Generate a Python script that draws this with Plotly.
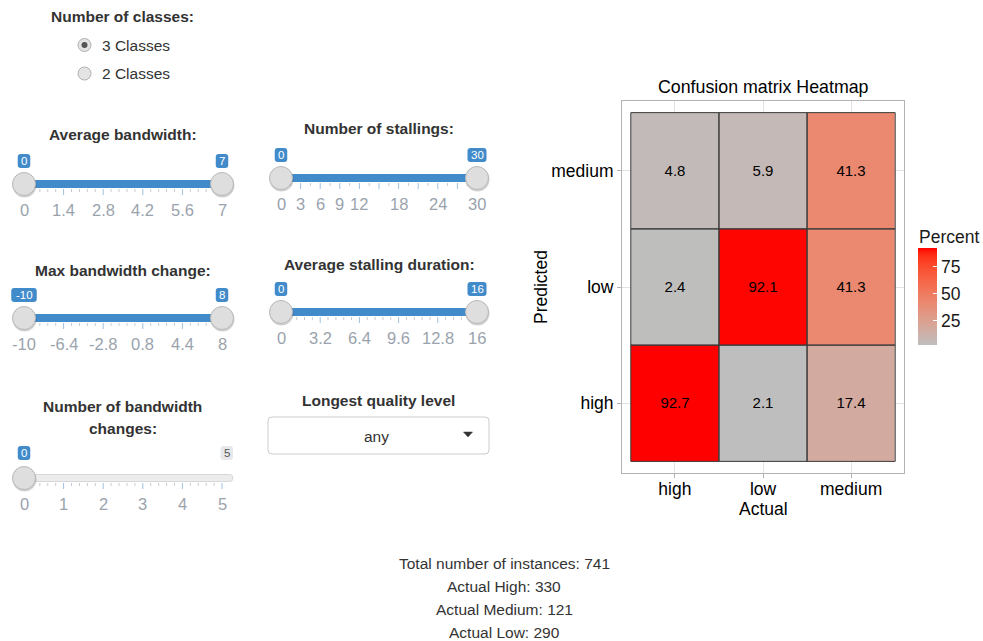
import plotly.graph_objects as go

# ---------------- data ----------------
actual_levels = ["high", "low", "medium"]
predicted_levels = ["high", "low", "medium"]
# rows follow predicted_levels (bottom -> top), columns follow actual_levels
percent = [
    [92.7, 2.1, 17.4],
    [2.4, 92.1, 41.3],
    [4.8, 5.9, 41.3],
]
legend_ticks = [25, 50, 75]

radio_title = "Number of classes:"
radio_options = ["3 Classes", "2 Classes"]
radio_selected = 0

slider_titles = ["Average bandwidth:", "Number of stallings:", "Max bandwidth change:",
                 "Average stalling duration:", "Number of bandwidth changes:"]
slider_min = [0, 0, -10, 0, 0]
slider_max = [7, 30, 8, 16, 5]
slider_from = [0, 0, -10, 0, 0]
slider_to = [7, 30, 8, 16, None]
slider_grid_labels = [
    ["0", "1.4", "2.8", "4.2", "5.6", "7"],
    ["0", "3", "6", "9", "12", "18", "24", "30"],
    ["-10", "-6.4", "-2.8", "0.8", "4.4", "8"],
    ["0", "3.2", "6.4", "9.6", "12.8", "16"],
    ["0", "1", "2", "3", "4", "5"],
]
slider_grid_major = [
    [0, 1.4, 2.8, 4.2, 5.6, 7],
    [0, 3, 6, 9, 12, 15, 18, 21, 24, 27, 30],
    [-10, -6.4, -2.8, 0.8, 4.4, 8],
    [0, 3.2, 6.4, 9.6, 12.8, 16],
    [0, 1, 2, 3, 4, 5],
]

dropdown_title = "Longest quality level"
dropdown_value = "any"

summary_lines = ["Total number of instances: 741", "Actual High: 330",
                 "Actual Medium: 121", "Actual Low: 290"]

# ---------------- helpers (layout in pixels) ----------------
W, H = 983, 641
FONT = "Liberation Sans, Arial, Helvetica, sans-serif"
BODY = 15.5
shapes = []
annots = []


def X(px):
    return px / W


def Y(py):
    return 1 - py / H


def text(x, y, s, size=BODY, color="#333333", bold=False, xanchor="center", angle=0):
    annots.append(dict(xref="paper", yref="paper", x=X(x), y=Y(y), text=("<b>%s</b>" % s) if bold else s,
                       showarrow=False, xanchor=xanchor, yanchor="middle", textangle=angle,
                       font=dict(family=FONT, size=size, color=color)))


def rect(x0, y0, x1, y1, fill, line=None, lw=0):
    shapes.append(dict(type="rect", xref="paper", yref="paper", x0=X(x0), x1=X(x1), y0=Y(y1), y1=Y(y0),
                       fillcolor=fill, line=dict(color=line or fill, width=lw)))


def rrect(x0, y0, x1, y1, r, fill, line=None, lw=0):
    pts = [("M", x0 + r, y0), ("L", x1 - r, y0), ("Q", x1, y0, x1, y0 + r), ("L", x1, y1 - r),
           ("Q", x1, y1, x1 - r, y1), ("L", x0 + r, y1), ("Q", x0, y1, x0, y1 - r), ("L", x0, y0 + r),
           ("Q", x0, y0, x0 + r, y0)]
    p = ""
    for sg in pts:
        cmd = sg[0]
        coords = sg[1:]
        parts = []
        for i in range(0, len(coords), 2):
            parts.append("%.6f,%.6f" % (X(coords[i]), Y(coords[i + 1])))
        p += cmd + " " + " ".join(parts) + " "
    p += "Z"
    shapes.append(dict(type="path", xref="paper", yref="paper", path=p, fillcolor=fill,
                       line=dict(color=line or fill, width=lw)))


def circle(cx, cy, r, fill, line=None, lw=0):
    shapes.append(dict(type="circle", xref="paper", yref="paper", x0=X(cx - r), x1=X(cx + r),
                       y0=Y(cy + r), y1=Y(cy - r), fillcolor=fill, line=dict(color=line or fill, width=lw)))


def seg(x0, y0, x1, y1, color, w=1):
    shapes.append(dict(type="line", xref="paper", yref="paper", x0=X(x0), x1=X(x1), y0=Y(y0), y1=Y(y1),
                       line=dict(color=color, width=w)))


def badge(cx, cy, s, fill="#428bca", color="white", xanchor="center"):
    w = 6 + 6.5 * len(s)
    if xanchor == "right":
        cx = cx - w / 2
    rrect(cx - w / 2, cy - 7, cx + w / 2, cy + 7, 3, fill)
    text(cx, cy, s, size=11.5, color=color)


def handle(cx, cy):
    circle(cx + 0.5, cy + 1.5, 12, "rgba(0,0,0,0.18)")
    circle(cx, cy, 11.5, "#dedede", "#b8b8b8", 1)


# ---------------- radio buttons ----------------
text(123, 16, radio_title, bold=True)
for i, opt in enumerate(radio_options):
    cy = 45 + 28.5 * i
    circle(84.5, cy, 6.5, "#e4e4e4", "#b0b0b0", 1)
    if i == radio_selected:
        circle(84.5, cy, 3, "#555555")
    text(100, cy, opt, xanchor="left")

# ---------------- sliders ----------------
# pixel placement of each slider: (title_y, track_y, x_left, x_right)
slider_place = [(134, 184, 24, 222), (129, 178, 281, 477), (271, 318, 24, 222),
                (265, 312, 281, 477), (None, 478, 24, 222)]

for k in range(5):
    ty, cy, xl, xr = slider_place[k]
    lo, hi = slider_min[k], slider_max[k]

    def pos(v):
        return xl + (v - lo) / (hi - lo) * (xr - xl)

    if ty is not None:
        text((xl + xr) / 2, ty, slider_titles[k], bold=True)
    else:
        words = slider_titles[k].split(" ")
        text((xl + xr) / 2, 406, " ".join(words[:3]), bold=True)
        text((xl + xr) / 2, 428, " ".join(words[3:]), bold=True)

    # grid ticks
    majors = slider_grid_major[k]
    nminor = 1 if len(majors) > 6 else 4
    for j, v in enumerate(majors):
        seg(pos(v), cy + 5, pos(v), cy + 11, "#9dc0e2", 1)
        if j < len(majors) - 1:
            for m in range(1, nminor + 1):
                vv = v + (majors[j + 1] - v) * m / (nminor + 1)
                seg(pos(vv), cy + 5, pos(vv), cy + 8, "#c3ccd6", 1)
    # grid labels
    for s in slider_grid_labels[k]:
        text(pos(float(s)), cy + 26, s, size=16.5, color="#9aa3ad")

    if slider_to[k] is not None:
        rrect(xl - 10, cy - 4, xr + 10, cy + 4, 3, "#cccccc")
        rect(pos(slider_from[k]), cy - 4, pos(slider_to[k]), cy + 4, "#428bca")
        handle(pos(slider_from[k]), cy)
        handle(pos(slider_to[k]), cy)
        badge(pos(slider_from[k]), cy - 23, str(slider_from[k]))
        badge(pos(slider_to[k]), cy - 23, str(slider_to[k]))
    else:
        rrect(xl - 11, cy - 3.5, xr + 11, cy + 3.5, 3.5, "#ececec", "#d8d8d8", 1)
        handle(pos(slider_from[k]), cy)
        badge(pos(slider_from[k]), cy - 25, str(slider_from[k]))
        badge(xr + 11, cy - 25, str(slider_max[k]), fill="#e6e8eb", color="#555555", xanchor="right")

# ---------------- dropdown ----------------
text(378, 400, dropdown_title, bold=True)
rrect(268, 417, 489, 454, 4, "white", "#cccccc", 1)
text(376, 436, dropdown_value)
shapes.append(dict(type="path", xref="paper", yref="paper",
                   path="M %f,%f L %f,%f L %f,%f Z" % (X(463.5), Y(432), X(472.5), Y(432), X(468), Y(437)),
                   fillcolor="#333333", line=dict(color="#333333", width=0.5)))

# ---------------- summary ----------------
for i, s in enumerate(summary_lines):
    text(504, 563 + 23 * i, s)


# ---------------- heatmap ----------------
def _lin(c):
    c = c / 255
    return c / 12.92 if c <= 0.04045 else ((c + 0.055) / 1.055) ** 2.4


def _gam(c):
    v = 12.92 * c if c <= 0.0031308 else 1.055 * max(c, 0) ** (1 / 2.4) - 0.055
    return max(0, min(255, round(v * 255)))


def to_lab(rgb):
    r, g, b = [_lin(c) for c in rgb]
    x = (0.4124 * r + 0.3576 * g + 0.1805 * b) / 0.95047
    y = 0.2126 * r + 0.7152 * g + 0.0722 * b
    z = (0.0193 * r + 0.1192 * g + 0.9505 * b) / 1.08883
    f = lambda t: t ** (1 / 3) if t > 0.008856 else 7.787 * t + 16 / 116
    return 116 * f(y) - 16, 500 * (f(x) - f(y)), 200 * (f(y) - f(z))


def from_lab(L, a, b):
    fy = (L + 16) / 116
    fx = fy + a / 500
    fz = fy - b / 200
    finv = lambda t: t ** 3 if t ** 3 > 0.008856 else (t - 16 / 116) / 7.787
    x, y, z = finv(fx) * 0.95047, finv(fy), finv(fz) * 1.08883
    r = 3.2406 * x - 1.5372 * y - 0.4986 * z
    g = -0.9689 * x + 1.8758 * y + 0.0415 * z
    bb = 0.0557 * x - 0.2040 * y + 1.0570 * z
    return "rgb(%d,%d,%d)" % (_gam(r), _gam(g), _gam(bb))


lab_lo = to_lab((190, 190, 190))
lab_hi = to_lab((255, 0, 0))
colorscale = []
for i in range(21):
    t = i / 20
    colorscale.append([t, from_lab(*[lab_lo[j] + (lab_hi[j] - lab_lo[j]) * t for j in range(3)])])

zmin = min(min(r) for r in percent)
zmax = max(max(r) for r in percent)

fig = go.Figure()
fig.add_trace(go.Heatmap(
    x=actual_levels, y=predicted_levels, z=percent,
    text=[["%.1f" % v for v in row] for row in percent], texttemplate="%{text}",
    textfont=dict(family=FONT, size=15, color="black"),
    colorscale=colorscale, zmin=zmin, zmax=zmax, hoverinfo="skip",
    colorbar=dict(
        x=X(918), xanchor="left", y=Y(296.5), yanchor="middle",
        thickness=19, thicknessmode="pixels", len=97, lenmode="pixels",
        xpad=0, ypad=0, outlinewidth=0,
        tickvals=legend_ticks, ticks="inside", ticklen=4, tickcolor="white", tickwidth=1,
        tickfont=dict(family=FONT, size=17.5, color="#1a1a1a"),
    ),
))

for yi in range(len(predicted_levels)):
    for xi in range(len(actual_levels)):
        shapes.append(dict(type="rect", xref="x", yref="y", x0=xi - 0.5, x1=xi + 0.5, y0=yi - 0.5, y1=yi + 0.5,
                           line=dict(color="#3a3a3a", width=1), fillcolor="rgba(0,0,0,0)", layer="above"))

axis_common = dict(showgrid=True, gridcolor="#e3e3e3", gridwidth=1, showline=True, mirror=True,
                   linecolor="#b3b3b3", linewidth=1, ticks="outside", ticklen=4, tickcolor="#b3b3b3",
                   tickfont=dict(family=FONT, size=17.5, color="black"), zeroline=False, fixedrange=True)

fig.update_layout(
    width=W, height=H, autosize=False,
    margin=dict(l=0, r=0, t=0, b=0),
    paper_bgcolor="white", plot_bgcolor="white",
    xaxis=dict(domain=[X(622), X(904)], range=[-0.6, 2.6], type="category",
               categoryorder="array", categoryarray=actual_levels, ticklabelstandoff=-4, **axis_common),
    yaxis=dict(domain=[Y(473), Y(101)], range=[-0.6, 2.6], type="category",
               categoryorder="array", categoryarray=predicted_levels, **axis_common),
    shapes=shapes,
    annotations=annots,
    font=dict(family=FONT),
)

# chart titles
fig.add_annotation(xref="paper", yref="paper", x=X(763), y=Y(87), text="Confusion matrix Heatmap",
                   showarrow=False, font=dict(family=FONT, size=17.8, color="black"),
                   xanchor="center", yanchor="middle")
fig.add_annotation(xref="paper", yref="paper", x=X(763), y=Y(509), text="Actual",
                   showarrow=False, font=dict(family=FONT, size=17.5, color="black"),
                   xanchor="center", yanchor="middle")
fig.add_annotation(xref="paper", yref="paper", x=X(541), y=Y(287), text="Predicted", textangle=-90,
                   showarrow=False, font=dict(family=FONT, size=17.5, color="black"),
                   xanchor="center", yanchor="middle")
fig.add_annotation(xref="paper", yref="paper", x=X(917), y=Y(237), text="Percent",
                   showarrow=False, font=dict(family=FONT, size=17.5, color="#1a1a1a"),
                   xanchor="left", yanchor="middle")

fig.write_html("out.html", config={"displayModeBar": False},
               post_script="document.body.style.margin='0px';document.body.style.overflow='hidden';")
